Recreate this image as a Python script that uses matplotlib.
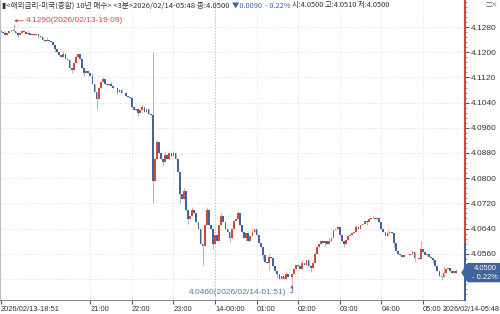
import matplotlib
matplotlib.use('Agg')
import matplotlib.pyplot as plt
from matplotlib.patches import Polygon
import numpy as np

plt.rcParams['font.family'] = ['Noto Sans CJK KR', 'DejaVu Sans']

# closes in 0.0001 above 4.0000, one per 3-minute bar from 18:51 to 05:48
closes = [
    1265, 1262, 1255, 1262, 1268, 1272, 1266, 1262, 1255, 1262,
    1268, 1264, 1258, 1262, 1256, 1258, 1254, 1258, 1252, 1250,
    1240, 1236, 1238, 1236, 1234, 1222, 1210, 1200, 1190, 1186,
    1196, 1180, 1176, 1150, 1145, 1165, 1185, 1195, 1180, 1150,
    1135, 1140, 1135, 1125, 1100, 1075, 1050, 1085, 1105, 1115,
    1100, 1095, 1098, 1092, 1088, 1085, 1075, 1080, 1070, 1072,
    1060, 1058, 1055, 1025, 1015, 1020, 1008, 1015, 1025, 1010,
    1020, 1005, 1000, 790, 860, 915, 880, 860, 850, 875,
    860, 880, 870, 880, 860, 820, 750, 735, 760, 700,
    670, 680, 700, 690, 660, 640, 590, 585, 650, 700,
    650, 640, 590, 620, 600, 650, 680, 660, 640, 630,
    610, 640, 665, 670, 690, 650, 630, 610, 625, 600,
    615, 630, 640, 620, 595, 580, 555, 535, 530, 550,
    545, 520, 505, 495, 480, 490, 480, 495, 485, 485,
    495, 510, 525, 520, 510, 530, 525, 540, 520, 515,
    530, 560, 580, 590, 600, 595, 600, 590, 600, 610,
    635, 640, 645, 620, 600, 590, 605, 615, 620, 625,
    630, 645, 640, 650, 655, 665, 660, 670, 672, 675,
    670, 672, 660, 640, 630, 615, 625, 630, 625, 595,
    570, 560, 555, 550, 555, 557, 555, 558, 565, 548,
    545, 542, 575, 565, 555, 560, 550, 545, 540, 520,
    505, 490, 485, 500, 510, 515, 505, 498, 505, 500,
]
first_open = 1268
# wick extremes that stick out of the bodies
high_marks = {2: 1268, 6: 1290, 13: 1270, 22: 1248, 30: 1205, 36: 1192,
              44: 1135, 49: 1122, 53: 1104, 58: 1082, 63: 1058, 68: 1032,
              73: 1200, 75: 921, 79: 885, 83: 885, 88: 770, 92: 708,
              99: 710, 106: 690, 114: 695, 121: 640, 129: 558, 137: 505,
              145: 540, 151: 565, 158: 612, 162: 648, 171: 652, 179: 680,
              186: 635, 198: 572, 202: 600, 213: 520, 219: 510}
low_marks = {8: 1248, 18: 1244, 26: 1200, 34: 1135, 40: 1125, 46: 1020,
             56: 1066, 66: 998, 73: 720, 78: 838, 86: 722, 90: 655,
             97: 525, 102: 575, 110: 598, 118: 600, 126: 540, 129: 508,
             133: 482, 140: 460, 149: 502, 156: 584, 165: 582, 176: 650,
             189: 580, 199: 538, 208: 530, 212: 477}

hour_idx = [43, 63, 83, 103, 123, 143, 163, 183, 203]
hour_lbl = ['21:00', '22:00', '23:00', '14-00:00', '01:00', '02:00',
            '03:00', '04:00', '05:00']
ytick_vals = [4.0480, 4.0560, 4.0640, 4.0720, 4.0800, 4.0880, 4.0960,
              4.1040, 4.1120, 4.1200, 4.1280]
prev_close = 4.0590
last_price = 4.0500

red = '#d4473b'
blue = '#41639e'
red_w = '#e8a59e'
blue_w = '#a5b4cc'
num_font = ['Liberation Sans', 'DejaVu Sans']

c = 4 + np.array(closes) / 10000
o = np.concatenate([[4 + first_open / 10000], c[:-1]])
h = np.maximum(o, c)
l = np.minimum(o, c)
for k, v in high_marks.items():
    h[k] = max(h[k], 4 + v / 10000)
for k, v in low_marks.items():
    l[k] = min(l[k], 4 + v / 10000)
x = np.arange(len(c))
up = c >= o

W, H = 500, 314
XR = 223.3
fig = plt.figure(figsize=(5, 3.14), dpi=100)
ax = fig.add_axes([0.0, 14 / H, 465 / W, 1 - 14 / H])
ax.set_xlim(-0.5, XR)
ax.set_ylim(4.0413, 4.1366)

for xi in hour_idx:
    ax.axvline(xi, color='#aaaaaa' if xi == 103 else '#dddddd', lw=0.6,
               ls=(0, (1.5, 2)), zorder=0)
for yv in ytick_vals:
    ax.axhline(yv, color='#dddddd', lw=0.6, ls=(0, (1.5, 2)), zorder=0)

ax.vlines(x[up], l[up], h[up], color=red_w, lw=0.7, zorder=1)
ax.vlines(x[~up], l[~up], h[~up], color=blue_w, lw=0.7, zorder=1)
body = np.where(np.abs(c - o) < 0.00008, 0.00008, c - o)
ax.bar(x[up], body[up], bottom=o[up], width=0.85, color=red, lw=0, zorder=2)
ax.bar(x[~up], body[~up], bottom=o[~up], width=0.85, color=blue, lw=0, zorder=2)

# right axis line: red above previous close, blue below
ylo, yhi = ax.get_ylim()
f = (prev_close - ylo) / (yhi - ylo)
ax.axvline(XR, ymin=f, ymax=1, color=red, lw=1.5, clip_on=False, zorder=5)
ax.axvline(XR, ymin=0, ymax=f, color=blue, lw=1.5, clip_on=False, zorder=5)

ax.yaxis.tick_right()
ax.set_yticks(ytick_vals)
ax.set_yticklabels(['%.4f' % v for v in ytick_vals], family=num_font)
ax.set_yticks(np.arange(4.0432, 4.1366, 0.0016), minor=True)
ax.tick_params(axis='y', which='major', labelsize=6, length=3, pad=1,
               colors='#555555', labelcolor='#333333')
ax.tick_params(axis='y', which='minor', length=1.5, colors='#888888')

ax.set_xticks([0] + hour_idx)
ax.set_xticklabels(['2026/02/13-18:51'] + hour_lbl, ha='left', family=num_font)
ax.tick_params(axis='x', labelsize=5.4, length=3, pad=1, colors='#555555',
               labelcolor='#333333')
for s in ['top', 'right']:
    ax.spines[s].set_visible(False)
ax.spines['left'].set_color('#bbbbbb')
ax.spines['bottom'].set_color('#888888')
fig.text(0.999, 0.003, '2026/02/14-05:48', ha='right', va='bottom',
         fontsize=5.2, color='#333333', family=num_font)

# high / low annotations
ax.annotate('4.1290(2026/02/13-19:09)', xy=(6.3, 4.1300), xytext=(12, 4.1300),
            fontsize=6, color=red, va='center', ha='left', family=num_font,
            arrowprops=dict(arrowstyle='-|>', color=red, lw=0.6,
                            mutation_scale=4, shrinkA=0, shrinkB=0))
ax.annotate('4.0460(2026/02/14-01:51)', xy=(140, 4.0461), xytext=(137.5, 4.0438),
            fontsize=6, color='#5b77a6', va='center', ha='right', family=num_font,
            arrowprops=dict(arrowstyle='-|>', color='#5b77a6', lw=0.6,
                            mutation_scale=4, shrinkA=0, shrinkB=0,
                            connectionstyle='angle,angleA=0,angleB=90,rad=0'))

# current price tag (pointer shape on the right axis)
ty = ax.transData.transform((0, last_price))[1]
tag = [(462, ty), (468, ty + 9), (500, ty + 9), (500, ty - 9), (468, ty - 9)]
fig.patches.append(Polygon([(px / W, py / H) for px, py in tag], closed=True,
                           transform=fig.transFigure, fc=blue, ec=blue, zorder=10))
fig.text(485 / W, (ty + 4.5) / H, '4.0500', ha='center', va='center',
         fontsize=5.4, color='white', family=num_font, zorder=11)
fig.text(485 / W, (ty - 4.5) / H, '- 0.22%', ha='center', va='center',
         fontsize=5.4, color='white', family=num_font, zorder=11)

# header line
fig.text(0.004, 0.983, '▮<해외금리-미국(종합) 10년 매수> <3분>2026/02/14-05:48 종:4.0500',
         fontsize=5.5, color='#333333', va='center')
fig.text(232 / W, 0.983, '▼0.0090  - 0.22%', fontsize=5.3, color='#3f63a8',
         va='center')
fig.text(292 / W, 0.983, '시:4.0500 고:4.0510 저:4.0500', fontsize=5.3,
         color='#333333', va='center')
fig.text(0.996, 0.983, '□×', fontsize=4.5, color='#555555', va='center',
         ha='right')

fig.savefig('out.png', dpi=100)
